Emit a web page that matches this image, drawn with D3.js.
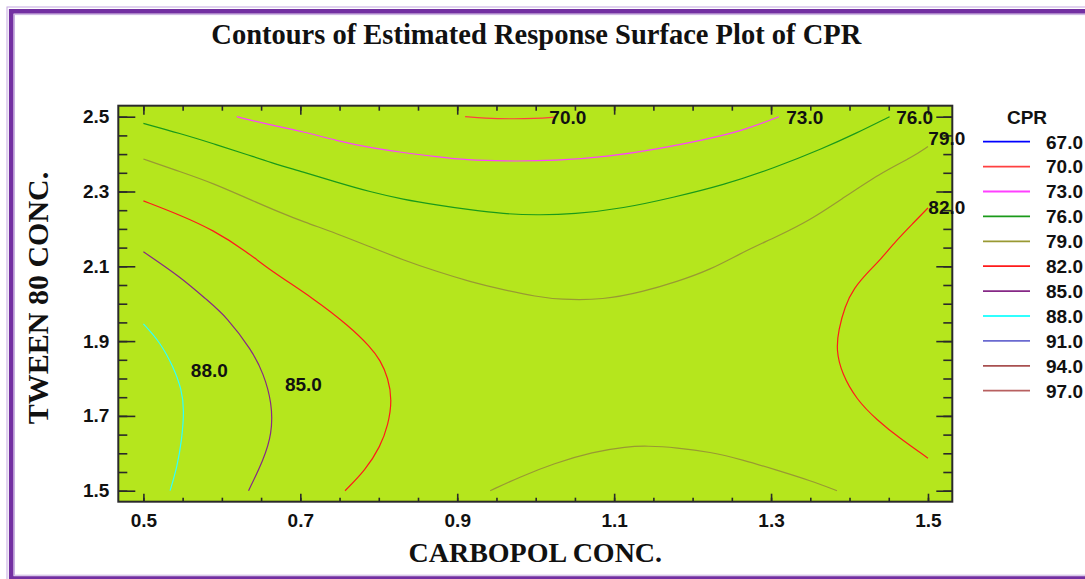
<!DOCTYPE html>
<html>
<head>
<meta charset="utf-8">
<script src="https://cdn.jsdelivr.net/npm/d3@7"></script>
<style>
    body { margin: 0; background: #fff; }
    svg { display: block; }
    .axis .tick text { font-family: "Liberation Sans", Arial, sans-serif; font-weight: bold; font-size: 19px; fill: #111; }
    .axis path { display: none; }
    .axis line { stroke: #2a2a2a; stroke-width: 1.6; }
</style>
</head>
<body>
<svg id="chart" width="1085" height="579"></svg>
<script>
// ------- Data -------

const levels = [67, 70, 73, 76, 79, 82, 85, 88, 91, 94, 97];
const levelColours = ['#0000ff', '#ff4040', '#ff40ff', '#1a9a1a', '#999933', '#ff1a1a',
                      '#862886', '#30ffff', '#6a6ad0', '#a85050', '#b86060'];

const xTicks = [0.5, 0.7, 0.9, 1.1, 1.3, 1.5];
const yTicks = [1.5, 1.7, 1.9, 2.1, 2.3, 2.5];

// contour lines, [carbopol, tween 80]
const cpr70 = [[0.910, 2.500], [0.935, 2.496], [0.967, 2.494], [0.999, 2.495], [1.025, 2.499]];

const cpr73 = [[0.619, 2.500], [0.661, 2.478], [0.704, 2.460], [0.746, 2.436], [0.789, 2.417],
               [0.831, 2.404], [0.874, 2.393], [0.912, 2.384], [0.959, 2.381], [1.027, 2.382],
               [1.091, 2.393], [1.154, 2.413], [1.218, 2.440], [1.260, 2.460], [1.310, 2.500]];

const cpr76 = [[0.500, 2.482], [0.547, 2.455], [0.589, 2.428], [0.632, 2.399], [0.661, 2.378],
               [0.704, 2.352], [0.746, 2.325], [0.789, 2.299], [0.831, 2.279], [0.874, 2.264],
               [0.916, 2.251], [0.959, 2.240], [1.001, 2.237], [1.048, 2.239], [1.112, 2.255],
               [1.175, 2.284], [1.239, 2.317], [1.303, 2.362], [1.367, 2.416], [1.409, 2.456],
               [1.451, 2.500]];

const cpr79Upper = [[0.500, 2.387], [0.547, 2.353], [0.589, 2.322], [0.632, 2.282], [0.674, 2.244],
                    [0.704, 2.219], [0.746, 2.188], [0.789, 2.152], [0.831, 2.117], [0.874, 2.086],
                    [0.916, 2.059], [0.959, 2.037], [1.001, 2.019], [1.031, 2.011], [1.086, 2.010],
                    [1.137, 2.032], [1.180, 2.059], [1.222, 2.090], [1.265, 2.139], [1.307, 2.179],
                    [1.350, 2.224], [1.388, 2.277], [1.439, 2.349], [1.481, 2.393], [1.500, 2.420]];

const cpr79Lower = [[0.942, 1.500], [0.980, 1.537], [1.023, 1.573], [1.073, 1.604], [1.116, 1.618],
                    [1.142, 1.620], [1.180, 1.615], [1.222, 1.604], [1.265, 1.582], [1.307, 1.555],
                    [1.350, 1.527], [1.384, 1.500]];

const cpr82Left = [[0.500, 2.275], [0.547, 2.237], [0.589, 2.197], [0.632, 2.139], [0.661, 2.090],
                   [0.717, 2.014], [0.763, 1.939], [0.789, 1.885], [0.802, 1.849], [0.812, 1.801],
                   [0.817, 1.743], [0.812, 1.676], [0.802, 1.618], [0.783, 1.555], [0.757, 1.500]];

const cpr82Right = [[1.500, 2.256], [1.481, 2.215], [1.460, 2.170], [1.439, 2.117], [1.426, 2.090],
                    [1.405, 2.041], [1.394, 1.992], [1.386, 1.930], [1.383, 1.876], [1.390, 1.814],
                    [1.409, 1.743], [1.435, 1.689], [1.464, 1.640], [1.500, 1.587]];

const cpr85 = [[0.500, 2.139], [0.547, 2.072], [0.581, 2.010], [0.606, 1.965], [0.638, 1.876],
               [0.653, 1.814], [0.664, 1.734], [0.664, 1.653], [0.653, 1.582], [0.634, 1.500]];

const cpr88 = [[0.500, 1.946], [0.521, 1.898], [0.538, 1.832], [0.549, 1.769], [0.552, 1.716],
               [0.549, 1.636], [0.543, 1.564], [0.534, 1.500]];

const contourLines = [
    {level: 70, points: cpr70},
    {level: 73, points: cpr73},
    {level: 76, points: cpr76},
    {level: 79, points: cpr79Upper},
    {level: 79, points: cpr79Lower},
    {level: 82, points: cpr82Left},
    {level: 82, points: cpr82Right},
    {level: 85, points: cpr85},
    {level: 88, points: cpr88}
];

// where the value labels sit (label centre, data units)
const contourLabels = [
    {level: 70, x: 1.041, y: 2.500},
    {level: 73, x: 1.343, y: 2.500},
    {level: 76, x: 1.483, y: 2.500},
    {level: 79, x: 1.524, y: 2.443},
    {level: 82, x: 1.524, y: 2.258},
    {level: 85, x: 0.704, y: 1.785},
    {level: 88, x: 0.584, y: 1.823}
];

// ------- Set up -------

const svg = d3.select('#chart');
const width = +svg.attr('width');
const height = +svg.attr('height');

const plot = {left: 118.3, top: 105.7, right: 952.3, bottom: 501.7};
const fmt = d3.format('.1f');
const colour = d3.scaleOrdinal(levels, levelColours);

const x = d3.scaleLinear().domain([0.468, 1.531]).range([plot.left, plot.right]);
const y = d3.scaleLinear().domain([1.4706, 2.5294]).range([plot.bottom, plot.top]);

// ------- Purple frame -------

svg.append('rect')
    .attr('x', 7).attr('y', 7).attr('width', width + 20).attr('height', 580)
    .attr('fill', 'none').attr('stroke', '#c4a8e0').attr('stroke-width', 1);
svg.append('rect')
    .attr('x', 11.2).attr('y', 11.3).attr('width', width + 20).attr('height', 567.2)
    .attr('fill', 'none').attr('stroke', '#7330a2').attr('stroke-width', 4.6);
svg.append('rect')
    .attr('x', 14.5).attr('y', 14.6).attr('width', width + 20).attr('height', 560.6)
    .attr('fill', 'none').attr('stroke', '#c9b2e2').attr('stroke-width', 1);

// ------- Title -------

const midX = (plot.left + plot.right) / 2;

svg.append('text')
    .attr('x', midX + 1)
    .attr('y', 44)
    .attr('text-anchor', 'middle')
    .style('font-family', '"Liberation Serif", "Times New Roman", serif')
    .style('font-weight', 'bold')
    .style('font-size', '28.5px')
    .attr('fill', '#111')
    .text('Contours of Estimated Response Surface Plot of CPR');

// ------- Plot background -------

svg.append('rect')
    .attr('x', plot.left).attr('y', plot.top)
    .attr('width', plot.right - plot.left).attr('height', plot.bottom - plot.top)
    .attr('fill', '#b5e61d');

svg.append('clipPath').attr('id', 'plot-clip')
    .append('rect')
    .attr('x', plot.left).attr('y', plot.top)
    .attr('width', plot.right - plot.left).attr('height', plot.bottom - plot.top);

// ------- Contours -------

const line = d3.line()
    .x(d => x(d[0]))
    .y(d => y(d[1]))
    .curve(d3.curveBasis);

svg.append('g')
    .attr('clip-path', 'url(#plot-clip)')
    .selectAll('path')
    .data(contourLines)
    .join('path')
        .attr('d', d => line(d.points))
        .attr('fill', 'none')
        .attr('stroke', d => colour(d.level))
        .attr('stroke-width', 1.2);

// ------- Axes (ticks point inwards) -------

const minor = (lo, hi) => d3.range(Math.round(lo * 20), Math.round(hi * 20) + 1).map(i => i / 20);
const xMinor = minor(0.5, 1.5);
const yMinor = minor(1.5, 2.5);

const addAxis = (axis, tx, ty) => svg.append('g')
    .attr('class', 'axis')
    .attr('transform', `translate(${tx}, ${ty})`)
    .call(axis);

addAxis(d3.axisBottom(x).tickValues(xMinor).tickSize(-4).tickFormat(''), 0, plot.bottom);
addAxis(d3.axisBottom(x).tickValues(xTicks).tickSize(-8).tickPadding(12).tickFormat(fmt), 0, plot.bottom);
addAxis(d3.axisTop(x).tickValues(xMinor).tickSize(-5).tickFormat(''), 0, plot.top);
addAxis(d3.axisTop(x).tickValues(xTicks).tickSize(-9).tickFormat(''), 0, plot.top);

addAxis(d3.axisLeft(y).tickValues(yMinor).tickSize(-9).tickFormat(''), plot.left, 0);
addAxis(d3.axisLeft(y).tickValues(yTicks).tickSize(-17).tickPadding(9).tickFormat(fmt), plot.left, 0);
addAxis(d3.axisRight(y).tickValues(yMinor).tickSize(-9).tickFormat(''), plot.right, 0);
addAxis(d3.axisRight(y).tickValues(yTicks).tickSize(-16).tickFormat(''), plot.right, 0);

svg.append('rect')
    .attr('x', plot.left).attr('y', plot.top)
    .attr('width', plot.right - plot.left).attr('height', plot.bottom - plot.top)
    .attr('fill', 'none')
    .attr('stroke', '#2a2a2a')
    .attr('stroke-width', 2);

// ------- Contour value labels -------

svg.append('g')
    .selectAll('text')
    .data(contourLabels)
    .join('text')
        .attr('x', d => x(d.x))
        .attr('y', d => y(d.y))
        .attr('dy', '0.36em')
        .attr('text-anchor', 'middle')
        .style('font-family', '"Liberation Sans", Arial, sans-serif')
        .style('font-weight', 'bold')
        .style('font-size', '19px')
        .attr('fill', '#111')
        .text(d => fmt(d.level));

// ------- Axis titles -------

const serif = '"Liberation Serif", "Times New Roman", serif';

svg.append('text')
    .attr('x', midX)
    .attr('y', 562)
    .attr('text-anchor', 'middle')
    .style('font-family', serif)
    .style('font-weight', 'bold')
    .style('font-size', '28px')
    .attr('fill', '#111')
    .text('CARBOPOL CONC.');

svg.append('text')
    .attr('transform', 'translate(48, 298) rotate(-90)')
    .attr('text-anchor', 'middle')
    .style('font-family', serif)
    .style('font-weight', 'bold')
    .style('font-size', '30px')
    .attr('fill', '#111')
    .text('TWEEN 80 CONC.');

// ------- Legend -------

const legend = svg.append('g').attr('transform', 'translate(983, 141.7)');

legend.append('text')
    .attr('x', 44)
    .attr('y', -18)
    .attr('text-anchor', 'middle')
    .style('font-family', '"Liberation Sans", Arial, sans-serif')
    .style('font-weight', 'bold')
    .style('font-size', '19px')
    .attr('fill', '#111')
    .text('CPR');

const legendItem = legend.selectAll('g.legend-item')
    .data(levels)
    .join('g')
        .attr('class', 'legend-item')
        .attr('transform', (d, i) => `translate(0, ${i * 24.9})`);

legendItem.append('line')
    .attr('x1', 0).attr('x2', 47)
    .attr('stroke', colour)
    .attr('stroke-width', 1.8);

legendItem.append('text')
    .attr('x', 63)
    .attr('dy', '0.36em')
    .style('font-family', '"Liberation Sans", Arial, sans-serif')
    .style('font-weight', 'bold')
    .style('font-size', '19px')
    .attr('fill', '#111')
    .text(d => fmt(d));
</script>
</body>
</html>
